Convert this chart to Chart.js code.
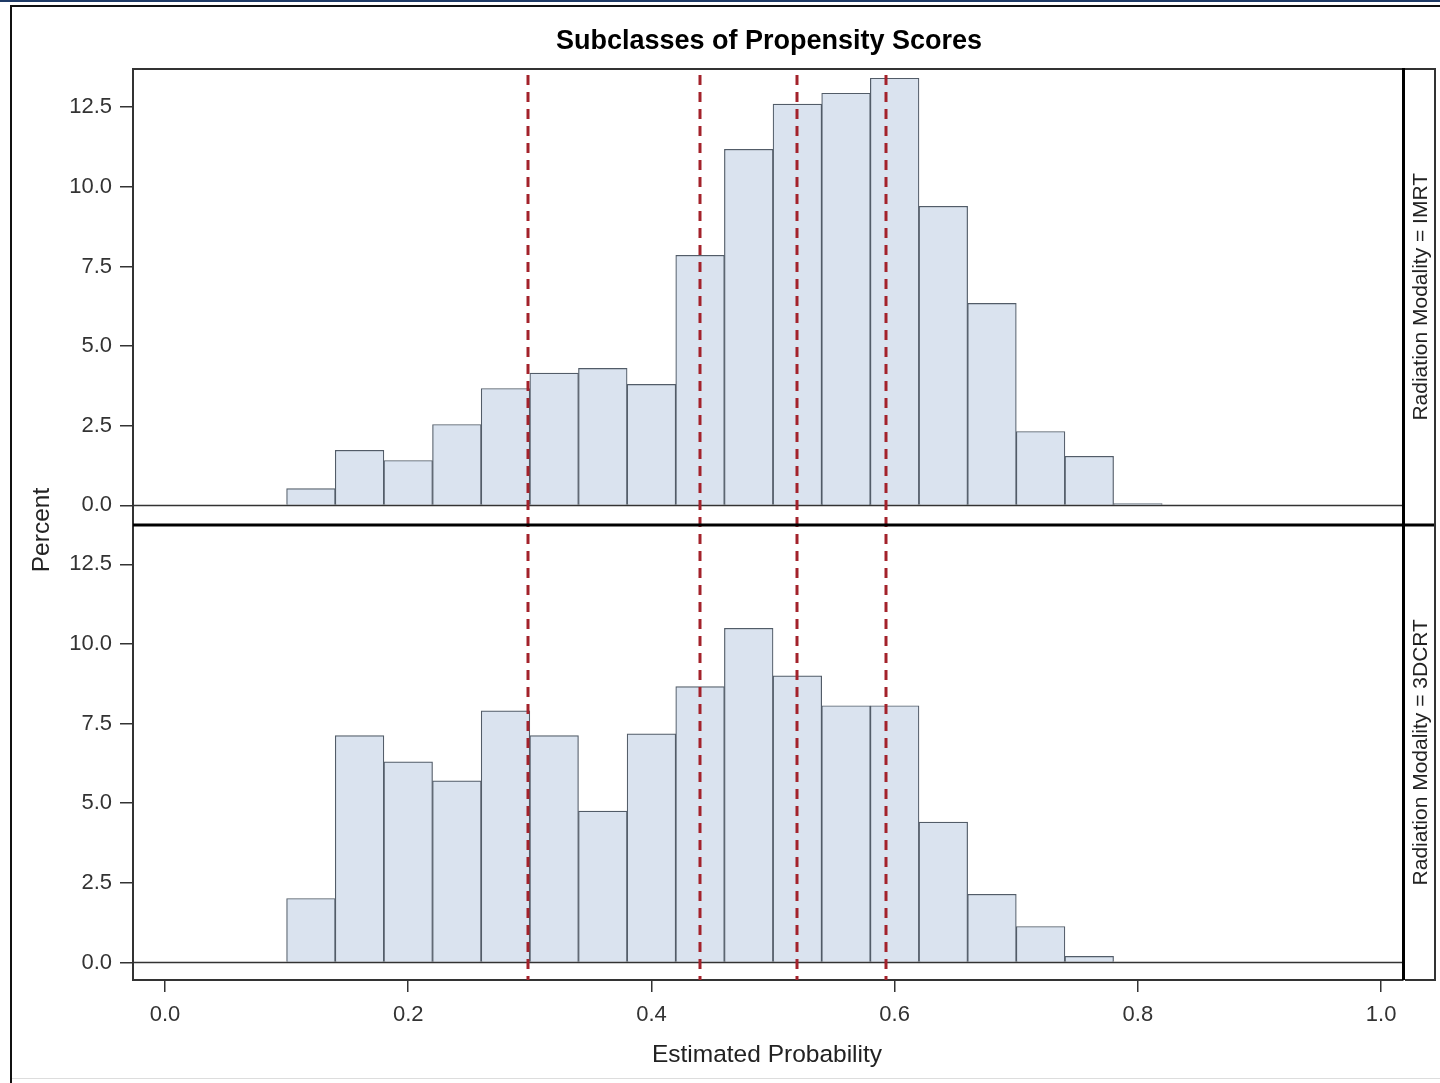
<!DOCTYPE html>
<html>
<head>
<meta charset="utf-8">
<script src="https://cdn.jsdelivr.net/npm/chart.js@4/dist/chart.umd.min.js"></script>
<style>
  html, body { margin: 0; padding: 0; background: #fff; }
  #wrap { position: relative; width: 1440px; height: 1083px; }
</style>
</head>
<body>
<div id="wrap"><canvas id="chart" width="1440" height="1083"></canvas></div>
<script>
// histogram bins (midpoints, width 0.04)
const binMids = [0.12, 0.16, 0.20, 0.24, 0.28, 0.32, 0.36, 0.40, 0.44, 0.48, 0.52, 0.56, 0.60, 0.64, 0.68, 0.72, 0.76, 0.80];
const imrtPct = [0.53, 1.73, 1.41, 2.54, 3.67, 4.15, 4.30, 3.80, 7.85, 11.18, 12.60, 12.94, 13.41, 9.39, 6.34, 2.32, 1.54, 0.06];
const dcrtPct = [2.01, 7.12, 6.30, 5.70, 7.90, 7.12, 4.75, 7.18, 8.66, 10.49, 9.00, 8.06, 8.06, 4.41, 2.14, 1.13, 0.19, null];
// subclass cut points
const cutoffs = [0.2985, 0.440, 0.5197, 0.593];
const xTicks = [0, 0.2, 0.4, 0.6, 0.8, 1.0];
const yTicks = [0, 2.5, 5, 7.5, 10, 12.5];
const panelLabels = ['Radiation Modality = IMRT', 'Radiation Modality = 3DCRT'];

const FONT = '"Liberation Sans", Arial, sans-serif';
const barFill = '#dae3ef';
const barEdge = '#525c68';

function toPoints(vals) {
  return binMids.map((x, i) => ({ x: x, y: vals[i] }));
}

const decorPlugin = {
  id: 'decor',
  beforeDraw(chart) {
    const c = chart.ctx;
    c.save();
    c.fillStyle = '#fff';
    c.fillRect(0, 0, chart.width, chart.height);
    // outer frame
    c.fillStyle = '#1f3a66';
    c.fillRect(0, 0, 1440, 2);
    c.fillStyle = '#111';
    c.fillRect(11, 5, 1429, 2);
    c.fillRect(10, 5, 2, 1078);
    c.fillStyle = '#ddd';
    c.fillRect(12, 1078, 1428, 1);
    c.restore();
  },
  afterDatasetsDraw(chart) {
    const c = chart.ctx;
    const a = chart.chartArea;
    const xs = chart.scales.x;
    const panels = [chart.scales.yImrt, chart.scales.yDcrt];
    c.save();
    // zero baselines
    c.strokeStyle = '#333';
    c.lineWidth = 1.5;
    panels.forEach(s => {
      const y = Math.round(s.getPixelForValue(0)) + 0.5;
      c.beginPath();
      c.moveTo(a.left, y);
      c.lineTo(a.right, y);
      c.stroke();
    });
    // cut point reference lines
    c.strokeStyle = '#a3222b';
    c.lineWidth = 3;
    c.setLineDash([10, 7]);
    cutoffs.forEach(v => {
      const x = Math.round(xs.getPixelForValue(v));
      c.beginPath();
      c.moveTo(x, a.top + 6);
      c.lineTo(x, a.bottom);
      c.stroke();
    });
    c.setLineDash([]);
    // panel frame
    c.fillStyle = '#333';
    c.fillRect(a.left, a.top - 1, a.right - a.left, 2);
    c.fillStyle = '#000';
    const mid = Math.round(panels[0].bottom);
    c.fillRect(a.left, mid - 1.5, a.right - a.left + 33, 3);
    c.fillRect(a.right - 1, a.top - 1, 3, a.bottom - a.top + 1);
    // strip box
    c.fillStyle = '#333';
    c.fillRect(a.right + 2, a.top - 1, 31, 2);
    c.fillRect(a.right + 31, a.top - 1, 2, a.bottom - a.top + 1);
    c.fillRect(a.right + 2, a.bottom - 1, 31, 2);
    // strip labels
    c.fillStyle = '#222';
    c.font = '21px ' + FONT;
    c.textAlign = 'center';
    c.textBaseline = 'middle';
    panels.forEach((s, i) => {
      c.save();
      c.translate(a.right + 18, (s.top + s.bottom) / 2);
      c.rotate(-Math.PI / 2);
      c.fillText(panelLabels[i], 0, 0);
      c.restore();
    });
    // titles
    c.fillStyle = '#000';
    c.font = 'bold 27px ' + FONT;
    c.fillText('Subclasses of Propensity Scores', 769, 42);
    c.fillStyle = '#222';
    c.font = '24.5px ' + FONT;
    c.fillText('Estimated Probability', 767, 1055);
    c.save();
    c.translate(42, 530);
    c.rotate(-Math.PI / 2);
    c.fillText('Percent', 0, 0);
    c.restore();
    c.restore();
  }
};

function yAxis(min, max) {
  return {
    type: 'linear',
    position: 'left',
    stack: 'panels',
    stackWeight: 1,
    min: min,
    max: max,
    afterFit: s => { s.width = 133; },
    afterBuildTicks: s => { s.ticks = yTicks.map(v => ({ value: v })); },
    grid: { drawOnChartArea: false, drawTicks: true, tickLength: 13, color: '#333', lineWidth: 1.5, offset: false },
    border: { display: true, color: '#333', width: 2 },
    ticks: {
      padding: 8,
      color: '#333',
      font: { family: FONT, size: 22 },
      callback: v => v.toFixed(1)
    }
  };
}

const ctx = document.getElementById('chart');
new Chart(ctx, {
  type: 'bar',
  data: {
    datasets: [
      {
        label: 'IMRT',
        data: toPoints(imrtPct),
        yAxisID: 'yImrt',
        backgroundColor: barFill,
        borderColor: barEdge,
        borderWidth: 1.2,
        barPercentage: 1,
        categoryPercentage: 1,
        grouped: false
      },
      {
        label: '3DCRT',
        data: toPoints(dcrtPct),
        yAxisID: 'yDcrt',
        backgroundColor: barFill,
        borderColor: barEdge,
        borderWidth: 1.2,
        barPercentage: 1,
        categoryPercentage: 1,
        grouped: false
      }
    ]
  },
  options: {
    responsive: false,
    animation: false,
    devicePixelRatio: 1,
    layout: { padding: { left: 0, top: 69, right: 37, bottom: 0 } },
    plugins: { legend: { display: false }, tooltip: { enabled: false }, title: { display: false } },
    scales: {
      x: {
        type: 'linear',
        position: 'bottom',
        min: -0.0263,
        max: 1.018,
        offset: false,
        afterFit: s => { s.height = 103; },
        afterBuildTicks: s => { s.ticks = xTicks.map(v => ({ value: v })); },
        grid: { drawOnChartArea: false, drawTicks: true, tickLength: 12, color: '#333', lineWidth: 1.5, offset: false },
        border: { display: true, color: '#333', width: 2 },
        ticks: {
          padding: 10,
          maxRotation: 0,
          color: '#333',
          font: { family: FONT, size: 22 },
          callback: v => v.toFixed(1)
        }
      },
      // left boxes are laid out in reverse, so the lower panel is listed first
      yDcrt: yAxis(-0.55, 13.75),
      yImrt: yAxis(-0.6, 13.7)
    }
  },
  plugins: [decorPlugin]
});
</script>
</body>
</html>
